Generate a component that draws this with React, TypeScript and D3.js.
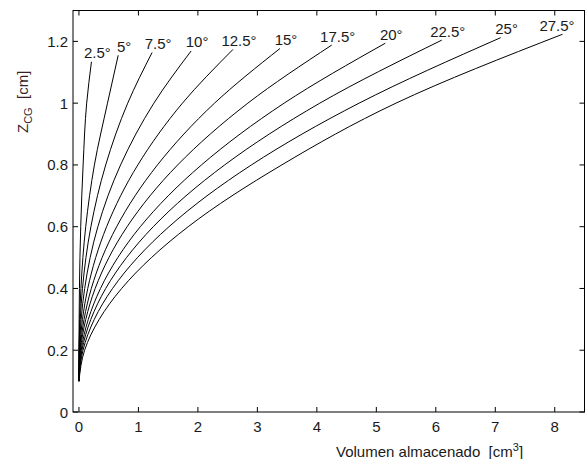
import React from "react";
import * as d3 from "d3";

// ---- data ----
const angles = [2.5, 5, 7.5, 10, 12.5, 15, 17.5, 20, 22.5, 25, 27.5];
const zLevels = [0.1, 0.2, 0.3, 0.4, 0.6, 0.8, 1.0];
const volumeAtLevel = [
  [0, 0.0005, 0.003, 0.008, 0.03, 0.07, 0.13],
  [0, 0.002, 0.012, 0.033, 0.114, 0.26, 0.48],
  [0, 0.004, 0.022, 0.059, 0.201, 0.45, 0.82],
  [0, 0.007, 0.037, 0.096, 0.318, 0.7, 1.26],
  [0, 0.0125, 0.059, 0.148, 0.465, 0.99, 1.74],
  [0, 0.019, 0.086, 0.208, 0.634, 1.32, 2.28],
  [0, 0.026, 0.115, 0.273, 0.81, 1.66, 2.84],
  [0, 0.038, 0.157, 0.362, 1.032, 2.06, 3.45],
  [0, 0.05, 0.2, 0.45, 1.25, 2.45, 4.05],
  [0, 0.068, 0.258, 0.565, 1.514, 2.9, 4.71],
  [0, 0.095, 0.341, 0.718, 1.837, 3.41, 5.33],
];
const endVolume = [0.21, 0.66, 1.23, 1.886, 2.59, 3.38, 4.25, 5.15, 6.1, 7.09, 8.13];
const endZ = [1.134, 1.155, 1.164, 1.169, 1.174, 1.177, 1.188, 1.194, 1.204, 1.212, 1.223];
const xTicks = [0, 1, 2, 3, 4, 5, 6, 7, 8];
const yTicks = [0, 0.2, 0.4, 0.6, 0.8, 1, 1.2];

const W = 587;
const H = 459;
const left = 73;
const right = 584.5;
const top = 10.5;
const bottom = 412;
const FONT = "Liberation Sans, Arial, sans-serif";
const FS = 15;

export default function App() {
  const x = d3.scaleLinear().domain([-0.1, 8.5]).range([left, right]);
  const y = d3.scaleLinear().domain([0, 1.3]).range([bottom, top]);
  const line = d3
    .line<[number, number]>()
    .x((d) => x(d[0]))
    .y((d) => y(d[1]))
    .curve(d3.curveMonotoneY);

  const series = angles.map((a, i) => {
    const pts: [number, number][] = zLevels.map((z, j) => [volumeAtLevel[i][j], z]);
    pts.push([endVolume[i], endZ[i]]);
    return { a, pts };
  });

  const tickLen = 5;
  return (
    <svg
      width={W}
      height={H}
      style={{ position: "absolute", left: 0, top: 0, background: "#fff" }}
      fontFamily={FONT}
    >
      <rect x={0} y={0} width={W} height={H} fill="#fff" />
      {series.map((s) => (
        <path key={s.a} d={line(s.pts) || ""} fill="none" stroke="#000" strokeWidth={1} />
      ))}
      {series.map((s, i) => {
        const ex = x(endVolume[i]);
        const ey = y(endZ[i]);
        const label = `${s.a}°`;
        const wEst = label.length * 7.8;
        let cx = ex + 6;
        if (cx + wEst / 2 > right - 8) cx = right - 8 - wEst / 2;
        return (
          <text key={"l" + s.a} x={cx} y={ey - 3.5} fontSize={FS} textAnchor="middle" fill="#1a1a1a">
            {label}
          </text>
        );
      })}
      <rect x={left} y={top} width={right - left} height={bottom - top} fill="none" stroke="#000" strokeWidth={1} />
      {xTicks.map((t) => (
        <g key={"x" + t}>
          <line x1={x(t)} x2={x(t)} y1={bottom} y2={bottom - tickLen} stroke="#000" />
          <line x1={x(t)} x2={x(t)} y1={top} y2={top + tickLen} stroke="#000" />
          <text x={x(t)} y={bottom + 20} fontSize={FS} textAnchor="middle" fill="#1a1a1a">
            {t}
          </text>
        </g>
      ))}
      {yTicks.map((t) => (
        <g key={"y" + t}>
          <line x1={left} x2={left + tickLen} y1={y(t)} y2={y(t)} stroke="#000" />
          <line x1={right} x2={right - tickLen} y1={y(t)} y2={y(t)} stroke="#000" />
          <text x={left - 5} y={y(t) + 5.5} fontSize={FS} textAnchor="end" fill="#1a1a1a">
            {d3.format("~g")(t)}
          </text>
        </g>
      ))}
      <text x={336} y={457} fontSize={FS} fill="#1a1a1a" style={{ whiteSpace: "pre" }}>
        {"Volumen almacenado  [cm"}
        <tspan fontSize={11} dy={-6}>3</tspan>
        <tspan dy={6}>]</tspan>
      </text>
      <text
        transform={`translate(28,133) rotate(-90)`}
        fontSize={FS}
        fill="#3a1f2a"
        style={{ whiteSpace: "pre" }}
      >
        {"Z"}
        <tspan fontSize={11} dy={4}>CG</tspan>
        <tspan dy={-4}>{"  [cm]"}</tspan>
      </text>
    </svg>
  );
}
